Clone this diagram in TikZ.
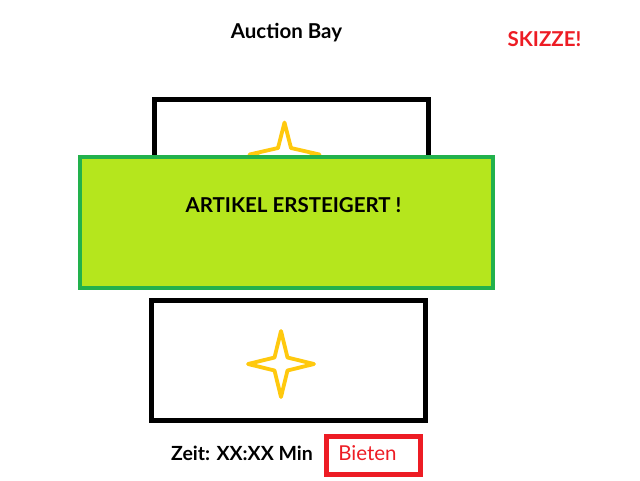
\documentclass[tikz,border=0pt]{standalone}
\usepackage{fontspec}
\setmainfont{Lato}
\usepackage{tikz}
\usetikzlibrary{positioning}

\definecolor{bannergreen}{HTML}{B5E61D}
\definecolor{bannerline}{HTML}{22B14C}
\definecolor{stargold}{HTML}{FFC90E}
\definecolor{sketchred}{HTML}{ED1C24}

\begin{document}
\begin{tikzpicture}[
  x=1pt, y=-1pt,
  every node/.style = {font=\fontsize{20.5}{22}\selectfont\bfseries},
  itembox/.style = {rectangle, draw=black, line width=5pt,
                    fill=white, minimum width=274pt,
                    minimum height=120pt},
  banner/.style  = {rectangle, draw=bannerline, fill=bannergreen,
                    line width=4pt, minimum width=413pt,
                    minimum height=131pt},
  bidbox/.style  = {rectangle, draw=sketchred, line width=4.5pt,
                    minimum width=94pt, minimum height=38pt},
  starline/.style = {draw=stargold, line width=3.8pt, line join=round},
]

\useasboundingbox (0,0) rectangle (640,480);

%% ── Title ────────────────────────────────────────────────────────────────
\node at (286.5, 33) (title) {Auction Bay};
\node[text=sketchred] at (544.5, 39) (sketch) {SKIZZE!};

%% ── Items ────────────────────────────────────────────────────────────────
\node[itembox] at (291.5, 159.5) (itemA) {};
\draw[starline, shift={(itemA.center)}, shift={(-7,-5)}]
  (0,-32) -- (6.5,-6.5) -- (35,0) -- (6.5,6.5) -- (0,32)
          -- (-6.5,6.5) -- (-35,0) -- (-6.5,-6.5) -- cycle;

\node[itembox] at (288, 360.5) (itemB) {};
\draw[starline, shift={(itemB.center)}, shift={(-7,3.5)}]
  (0,-33) -- (6.5,-6.5) -- (33,0) -- (6.5,6.5) -- (0,33)
          -- (-6.5,6.5) -- (-33,0) -- (-6.5,-6.5) -- cycle;

%% ── Banner ───────────────────────────────────────────────────────────────
\node[banner] at (286.5, 222.5) (won) {};
\node at (293.5, 205.5) (wontext) {ARTIKEL ERSTEIGERT !};

%% ── Bid row ──────────────────────────────────────────────────────────────
\node[font=\fontsize{19.5}{21}\selectfont\bfseries]
  at (242, 453) (time) {Zeit: XX:XX Min};
\node[bidbox] at (373.5, 455.5) (bid) {};
\node[font=\fontsize{20.5}{22}\selectfont, text=sketchred]
  at (367.5, 453) (bidtext) {Bieten};

\end{tikzpicture}
\end{document}
